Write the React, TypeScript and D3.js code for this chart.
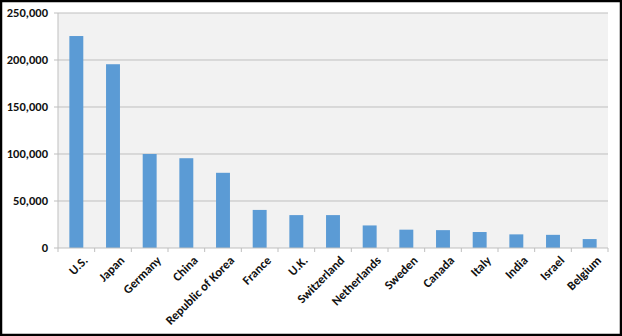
import React from "react";
import * as d3 from "d3";

const categories = ["U.S.", "Japan", "Germany", "China", "Republic of Korea", "France", "U.K.", "Switzerland", "Netherlands", "Sweden", "Canada", "Italy", "India", "Israel", "Belgium"];
const values = [225500, 195500, 100000, 95500, 80000, 40500, 35000, 35000, 24000, 19500, 19000, 17000, 14500, 14000, 9500];
const yTicks = [0, 50000, 100000, 150000, 200000, 250000];

const W = 622, H = 336;
const L = 58, R = 608, T = 13, B = 248;

export default function App() {
  const x = d3.scaleBand<string>().domain(categories).range([L, R]).paddingInner(0.62).paddingOuter(0.31);
  const step = (R - L) / categories.length;
  const y = d3.scaleLinear().domain([0, 250000]).range([B, T]);
  const fmt = d3.format(",");
  const font = "Carlito, Calibri, 'Open Sans', sans-serif";
  return (
    <svg width={W} height={H} style={{ position: "absolute", left: 0, top: 0 }} fontFamily={font}>
      <rect x={0} y={0} width={W} height={H} fill="#fff" />
      <rect x={L} y={T} width={R - L} height={B - T} fill="#F2F2F2" />
      {yTicks.map((t) => (
        <g key={t}>
          {t > 0 && <line x1={L} x2={R} y1={y(t)} y2={y(t)} stroke="#BFBFBF" strokeWidth={1} />}
          <line x1={L - 4} x2={L} y1={y(t)} y2={y(t)} stroke="#BFBFBF" />
          <text x={L - 10} y={y(t)} dy="0.35em" textAnchor="end" fontSize={12.5} fontWeight="bold" fill="#111">{fmt(t)}</text>
        </g>
      ))}
      <line x1={L} x2={L} y1={T} y2={B} stroke="#BFBFBF" />
      {categories.map((c, i) => (
        <rect key={c} x={x(c)} y={y(values[i])} width={x.bandwidth()} height={B - y(values[i])} fill="#5B9BD5" />
      ))}
      <line x1={L} x2={R} y1={B} y2={B} stroke="#BFBFBF" />
      {d3.range(categories.length + 1).map((i) => (
        <line key={i} x1={L + i * step} x2={L + i * step} y1={B} y2={B + 4} stroke="#BFBFBF" />
      ))}
      {categories.map((c) => {
        const cx = (x(c) as number) + x.bandwidth() / 2;
        return (
          <text key={c} transform={`translate(${cx + 6},${B + 7}) rotate(-45)`} textAnchor="end" dy="0.7em" fontSize={12.5} fontWeight="bold" fill="#111">{c}</text>
        );
      })}
      <rect x={1} y={1} width={W - 2} height={H - 2} fill="none" stroke="#000" strokeWidth={2.5} />
    </svg>
  );
}
